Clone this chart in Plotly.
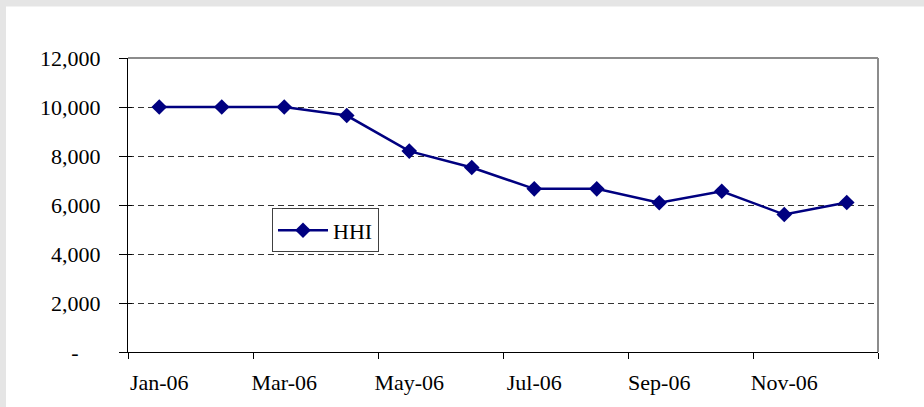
import plotly.graph_objects as go

months = ["Jan-06", "Feb-06", "Mar-06", "Apr-06", "May-06", "Jun-06",
          "Jul-06", "Aug-06", "Sep-06", "Oct-06", "Nov-06", "Dec-06"]
hhi = [10000, 10000, 10000, 9650, 8200, 7530, 6660, 6660, 6090, 6560, 5610, 6100]
y_ticks = [0, 2000, 4000, 6000, 8000, 10000, 12000]
y_tick_labels = ["-" + "\u00a0" * 4, "2,000", "4,000", "6,000", "8,000", "10,000", "12,000"]

x_idx = list(range(len(months)))
label_idx = x_idx[::2]

FONT = "Liberation Serif"
L, R, T, B = 128, 46, 58, 52
W, H = 924, 407
pw, ph = W - L - R, H - T - B

fig = go.Figure()
fig.add_trace(go.Scatter(
    x=x_idx, y=hhi, mode="lines+markers", name="HHI",
    line=dict(color="#000080", width=2.5),
    marker=dict(symbol="diamond", size=12, color="#000080"),
))
# invisible trace for inside y ticks
fig.add_trace(go.Scatter(x=[x_idx[0]], y=[hhi[0]], yaxis="y2", mode="markers",
                         marker=dict(opacity=0), showlegend=False, hoverinfo="skip"))

fig.update_layout(
    width=W, height=H,
    margin=dict(l=L, r=R, t=T, b=B),
    paper_bgcolor="#e5e5e5",
    plot_bgcolor="white",
    font=dict(family=FONT, size=22, color="black"),
    showlegend=True,
    legend=dict(
        x=(272 - L) / pw, y=(H - B - 210) / ph, xanchor="left", yanchor="top",
        bgcolor="white", bordercolor="#404040", borderwidth=1,
        font=dict(family=FONT, size=22, color="black"),
        itemwidth=50,
    ),
    xaxis=dict(
        range=[-0.5, 11.5], tickmode="array", tickvals=label_idx,
        ticktext=[months[i] for i in label_idx], ticks="",
        showgrid=False, zeroline=False,
        showline=True, linecolor="black", linewidth=1,
        minor=dict(tickmode="array", tickvals=[i - 0.5 for i in range(0, 13, 2)],
                   ticks="outside", ticklen=6, tickcolor="black", showgrid=False),
        ticklabelstandoff=11,
    ),
    yaxis=dict(
        range=[0, 12000], tickmode="array", tickvals=y_ticks, ticktext=y_tick_labels,
        ticks="outside", ticklen=8, tickcolor="black",
        showgrid=True, gridcolor="#333333", griddash="6px,4px", gridwidth=1,
        zeroline=False, showline=True, linecolor="black", linewidth=1,
        ticklabelstandoff=14,
    ),
    yaxis2=dict(
        overlaying="y", range=[0, 12000], tickmode="array", tickvals=y_ticks,
        ticks="inside", ticklen=4, tickcolor="black", showticklabels=False,
        showgrid=False, zeroline=False, side="left", showline=False,
    ),
    shapes=[
        dict(type="rect", xref="paper", yref="paper",
             x0=(6 - L) / pw, x1=(W + 10 - L) / pw,
             y0=(H - B - (H + 10)) / ph, y1=(H - B - 6) / ph,
             fillcolor="white", line=dict(width=0), layer="below"),
        dict(type="line", xref="paper", yref="paper", x0=0, x1=1, y0=1, y1=1,
             line=dict(color="#8c8c8c", width=2), layer="above"),
        dict(type="line", xref="paper", yref="paper", x0=1, x1=1, y0=0, y1=1,
             line=dict(color="#8c8c8c", width=2), layer="above"),
    ],
)

fig.write_html(
    "out.html",
    config={"displayModeBar": False},
    post_script="document.body.style.margin='0';document.body.style.overflow='hidden';",
)
